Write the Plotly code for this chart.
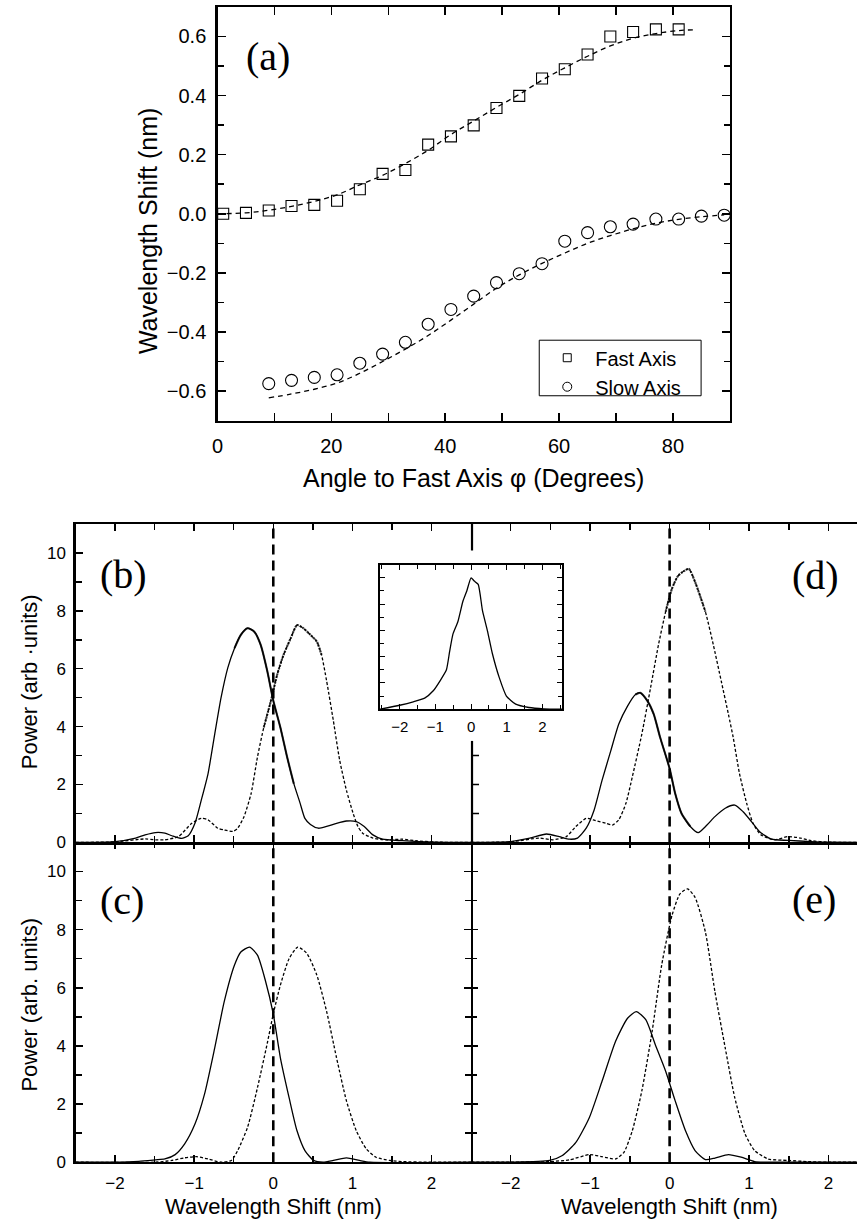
import plotly.graph_objects as go

W, H = 857, 1231
SANS = "Liberation Sans, Arial, Helvetica, sans-serif"
SERIF = "Liberation Serif, Times New Roman, serif"

# ---------------- panel (a) data ----------------
FAST_ANGLE = [1, 5, 9, 13, 17, 21, 25, 29, 33, 37, 41, 45, 49, 53, 57, 61, 65, 69, 73, 77, 81]
FAST_SHIFT = [0.0, 0.003, 0.011, 0.026, 0.03, 0.044, 0.083, 0.135, 0.148, 0.234, 0.262,
              0.299, 0.358, 0.399, 0.458, 0.489, 0.539, 0.600, 0.615, 0.624, 0.624]
SLOW_ANGLE = [9, 13, 17, 21, 25, 29, 33, 37, 41, 45, 49, 53, 57, 61, 65, 69, 73, 77, 81, 85, 89]
SLOW_SHIFT = [-0.575, -0.564, -0.554, -0.545, -0.506, -0.475, -0.435, -0.374, -0.324, -0.279,
              -0.233, -0.203, -0.169, -0.093, -0.064, -0.044, -0.035, -0.018, -0.018, -0.008, -0.005]
FAST_FIT_ANGLE = [0, 5, 9, 13, 17, 21, 25, 29, 33, 37, 41, 45, 49, 53, 57, 61, 65, 69, 73, 77, 81, 84]
FAST_FIT = [0.0, 0.003, 0.012, 0.025, 0.042, 0.064, 0.098, 0.130, 0.170, 0.215, 0.268, 0.314,
            0.360, 0.404, 0.452, 0.494, 0.533, 0.568, 0.594, 0.610, 0.620, 0.623]
SLOW_FIT_ANGLE = [9, 13, 17, 21, 25, 29, 33, 37, 41, 45, 49, 53, 57, 61, 65, 69, 73, 77, 81, 85, 89]
SLOW_FIT = [-0.623, -0.610, -0.594, -0.573, -0.540, -0.500, -0.458, -0.412, -0.360, -0.306,
            -0.252, -0.207, -0.168, -0.133, -0.100, -0.074, -0.051, -0.032, -0.019, -0.010, -0.004]

# ---------------- panel (b) data ----------------
B_SOLID_X = [-2.5, -2.0, -1.74, -1.62, -1.49, -1.37, -1.28, -1.16, -1.075, -0.99,
             -0.91, -0.825, -0.74, -0.66, -0.575, -0.49, -0.41, -0.325, -0.24, -0.16,
             -0.075, 0.0, 0.09, 0.175, 0.26, 0.34, 0.40, 0.47, 0.57, 0.675,
             0.80, 0.925, 1.05, 1.15, 1.26, 1.38, 1.63, 2.05, 2.5]
B_SOLID_Y = [0, 0.03, 0.15, 0.26, 0.34, 0.32, 0.23, 0.14, 0.23, 0.66,
             1.46, 2.37, 3.74, 5.0, 6.03, 6.71, 7.17, 7.4, 7.28, 6.83,
             5.91, 4.9, 3.97, 2.95, 2.03, 1.35, 0.83, 0.62, 0.49, 0.55,
             0.66, 0.74, 0.72, 0.55, 0.26, 0.11, 0.06, 0.01, 0]
B_DASH_X = [-2.5, -2.0, -1.62, -1.49, -1.37, -1.2, -1.03, -0.91, -0.825, -0.7,
            -0.62, -0.51, -0.45, -0.37, -0.28, -0.2, -0.12, -0.03, 0.05, 0.13,
            0.22, 0.30, 0.38, 0.47, 0.55, 0.61, 0.675, 0.76, 0.84, 0.925,
            1.01, 1.07, 1.13, 1.26, 1.43, 1.63, 1.8, 2.05, 2.5]
B_DASH_Y = [0, 0.02, 0.12, 0.09, 0.09, 0.2, 0.66, 0.83, 0.78, 0.49,
            0.43, 0.38, 0.49, 0.89, 1.69, 2.95, 3.97, 4.89, 5.8, 6.48,
            7.05, 7.51, 7.4, 7.17, 6.94, 6.48, 5.57, 4.2, 2.83, 1.8,
            1.0, 0.55, 0.32, 0.15, 0.09, 0.11, 0.06, 0.01, 0]

# ---------------- panel (d) data ----------------
D_SOLID_X = [-2.5, -2.0, -1.76, -1.55, -1.39, -1.26, -1.16, -1.05, -0.95, -0.85,
             -0.74, -0.64, -0.53, -0.43, -0.37, -0.28, -0.2, -0.12, 0.0, 0.07,
             0.15, 0.26, 0.36, 0.47, 0.57, 0.7, 0.82, 0.925, 1.03, 1.13,
             1.28, 1.49, 1.78, 1.99, 2.4]
D_SOLID_Y = [0, 0.03, 0.15, 0.29, 0.2, 0.11, 0.15, 0.49, 1.12, 2.15,
             3.17, 4.09, 4.71, 5.11, 5.17, 4.89, 4.43, 3.63, 2.55, 1.69,
             1.0, 0.55, 0.34, 0.6, 0.89, 1.18, 1.29, 1.06, 0.72, 0.38,
             0.11, 0.07, 0.03, 0.01, 0]
D_DASH_X = [-2.5, -2.0, -1.64, -1.47, -1.3, -1.18, -1.05, -0.93, -0.8, -0.72,
            -0.64, -0.55, -0.47, -0.35, -0.24, -0.14, -0.05, 0.03, 0.11, 0.24,
            0.32, 0.45, 0.55, 0.65, 0.74, 0.8, 0.88, 0.97, 1.05, 1.15,
            1.32, 1.49, 1.65, 1.78, 1.99, 2.4]
D_DASH_Y = [0, 0.02, 0.15, 0.09, 0.2, 0.55, 0.83, 0.75, 0.66, 0.6,
            0.78, 1.35, 2.26, 3.74, 5.34, 6.83, 7.97, 8.77, 9.22, 9.45,
            9.0, 7.97, 6.83, 5.57, 4.43, 3.63, 2.37, 1.35, 0.66, 0.26,
            0.09, 0.2, 0.15, 0.06, 0.01, 0]

# ---------------- panel (c) data ----------------
C_SOLID_X = [-2.5, -2.0, -1.7, -1.49, -1.37, -1.24, -1.12, -0.99, -0.87, -0.74,
             -0.62, -0.49, -0.41, -0.3, -0.2, -0.1, 0.0, 0.09, 0.2, 0.3,
             0.4, 0.51, 0.63, 0.76, 0.925, 1.09, 1.22, 2.5]
C_SOLID_Y = [0, 0.0, 0.03, 0.08, 0.11, 0.26, 0.63, 1.31, 2.33, 3.93,
             5.52, 6.78, 7.23, 7.4, 7.12, 6.25, 5.1, 3.59, 2.22, 1.08,
             0.4, 0.06, 0.0, 0.06, 0.15, 0.06, 0.0, 0]
C_DASH_X = [-2.5, -1.49, -1.28, -1.12, -0.97, -0.825, -0.66, -0.53, -0.45, -0.325,
            -0.2, -0.075, 0.0, 0.09, 0.2, 0.31, 0.425, 0.55, 0.675, 0.8,
            0.925, 1.05, 1.175, 1.3, 1.47, 1.63, 1.97, 2.5]
C_DASH_Y = [0, 0, 0.06, 0.15, 0.19, 0.11, 0.0, 0.06, 0.4, 1.2,
            2.56, 4.1, 5.1, 6.09, 7.0, 7.4, 7.18, 6.44, 5.18, 3.59,
            2.11, 1.08, 0.46, 0.17, 0.06, 0.02, 0, 0]

# ---------------- panel (e) data ----------------
E_SOLID_X = [-2.5, -2.0, -1.51, -1.35, -1.18, -1.01, -0.85, -0.68, -0.53, -0.42,
             -0.3, -0.18, -0.05, 0.07, 0.2, 0.32, 0.45, 0.57, 0.74, 0.9,
             1.07, 1.32, 2.4]
E_SOLID_Y = [0, 0, 0.06, 0.23, 0.68, 1.54, 2.79, 4.16, 4.95, 5.18,
             4.9, 4.04, 3.13, 2.11, 1.08, 0.4, 0.09, 0.14, 0.26, 0.17,
             0.02, 0, 0]
E_DASH_X = [-2.5, -2.0, -1.51, -1.26, -1.01, -0.85, -0.68, -0.575, -0.47, -0.35,
            -0.22, -0.1, 0.03, 0.13, 0.225, 0.32, 0.45, 0.57, 0.7, 0.82,
            0.95, 1.07, 1.24, 1.49, 1.74, 1.99, 2.4]
E_DASH_Y = [0, 0, 0.02, 0.08, 0.26, 0.19, 0.11, 0.34, 1.08, 2.45,
            4.5, 6.78, 8.49, 9.23, 9.4, 9.11, 7.92, 5.87, 3.93, 2.22,
            0.97, 0.4, 0.11, 0.06, 0.02, 0, 0]

# ---------------- inset data ----------------
INSET_X = [-2.55, -2.0, -1.62, -1.3, -1.06, -0.86, -0.69, -0.6, -0.51, -0.37, -0.23, -0.12,
           0.0, 0.09, 0.2, 0.32, 0.46, 0.6, 0.79, 0.99, 1.25, 1.62, 2.04, 2.55]
INSET_Y = [0, 0.03, 0.056, 0.084, 0.14, 0.22, 0.30, 0.44, 0.57, 0.666, 0.82, 0.90,
           1.0, 0.975, 0.95, 0.75, 0.595, 0.42, 0.24, 0.10, 0.038, 0.013, 0.003, 0]

# wavelength windows (nm) where the measured spectra (b), (d) show dense fringes
B_SOLID_FRINGE = [-0.50, 0.30]
B_DASH_FRINGE = [-0.13, 0.62]
D_SOLID_FRINGE = [-0.45, 0.30]
D_DASH_FRINGE = [-0.08, 0.50]

X_TICKS_LOWER = [-2, -1, 0, 1, 2]
Y_TICKS_LOWER = [0, 2, 4, 6, 8, 10]
A_X_TICKS = [0, 20, 40, 60, 80]
A_Y_TICKS = [-0.6, -0.4, -0.2, 0.0, 0.2, 0.4, 0.6]
MID_TICKS = [1, 2, 3]


def px(p):
    return p / W


def py(p):
    return 1 - p / H


fig = go.Figure()

# panel (a)
fig.add_trace(go.Scatter(x=FAST_FIT_ANGLE, y=FAST_FIT, mode="lines", showlegend=False,
                         line=dict(color="black", width=1.3, dash="5px,4px", shape="spline"),
                         xaxis="x", yaxis="y"))
fig.add_trace(go.Scatter(x=SLOW_FIT_ANGLE, y=SLOW_FIT, mode="lines", showlegend=False,
                         line=dict(color="black", width=1.3, dash="5px,4px", shape="spline"),
                         xaxis="x", yaxis="y"))
fig.add_trace(go.Scatter(x=FAST_ANGLE, y=FAST_SHIFT, mode="markers", showlegend=False,
                         marker=dict(symbol="square-open", size=11, color="black", line=dict(width=1.1)),
                         xaxis="x", yaxis="y"))
fig.add_trace(go.Scatter(x=SLOW_ANGLE, y=SLOW_SHIFT, mode="markers", showlegend=False,
                         marker=dict(symbol="circle-open", size=12, color="black", line=dict(width=1.1)),
                         xaxis="x", yaxis="y"))
fig.add_trace(go.Scatter(x=[None], y=[None], mode="markers", name="Fast Axis",
                         marker=dict(symbol="square-open", size=8, color="black", line=dict(width=1)),
                         xaxis="x", yaxis="y"))
fig.add_trace(go.Scatter(x=[None], y=[None], mode="markers", name="Slow Axis",
                         marker=dict(symbol="circle-open", size=9, color="black", line=dict(width=1)),
                         xaxis="x", yaxis="y"))

solid = dict(color="black", width=1.3)
dashed = dict(color="black", width=1.3, dash="3px,2px")


def pair(xs, ys, xd, yd, xa, ya):
    fig.add_trace(go.Scatter(x=xs, y=ys, mode="lines", showlegend=False,
                             line=dict(**solid, shape="spline", smoothing=0.6), xaxis=xa, yaxis=ya))
    fig.add_trace(go.Scatter(x=xd, y=yd, mode="lines", showlegend=False,
                             line=dict(**dashed, shape="spline", smoothing=0.6), xaxis=xa, yaxis=ya))


def fringe(xs, ys, window, xa, ya, dash):
    sel = [(x, y) for x, y in zip(xs, ys) if window[0] <= x <= window[1]]
    fig.add_trace(go.Scatter(x=[p[0] for p in sel], y=[p[1] for p in sel], mode="lines",
                             showlegend=False, opacity=0.8,
                             line=dict(color="black", width=2.1, dash=dash, shape="spline", smoothing=0.6),
                             xaxis=xa, yaxis=ya))


pair(B_SOLID_X, B_SOLID_Y, B_DASH_X, B_DASH_Y, "x2", "y2")
fringe(B_SOLID_X, B_SOLID_Y, B_SOLID_FRINGE, "x2", "y2", "solid")
fringe(B_DASH_X, B_DASH_Y, B_DASH_FRINGE, "x2", "y2", "2px,1px")
pair(D_SOLID_X, D_SOLID_Y, D_DASH_X, D_DASH_Y, "x3", "y3")
fringe(D_SOLID_X, D_SOLID_Y, D_SOLID_FRINGE, "x3", "y3", "solid")
fringe(D_DASH_X, D_DASH_Y, D_DASH_FRINGE, "x3", "y3", "2px,1px")
pair(C_SOLID_X, C_SOLID_Y, C_DASH_X, C_DASH_Y, "x4", "y4")
pair(E_SOLID_X, E_SOLID_Y, E_DASH_X, E_DASH_Y, "x5", "y5")
# empty traces that attach the top-tick overlay axes of (c) and (e)
fig.add_trace(go.Scatter(x=[None], y=[None], showlegend=False, hoverinfo="skip", xaxis="x7", yaxis="y4"))
fig.add_trace(go.Scatter(x=[None], y=[None], showlegend=False, hoverinfo="skip", xaxis="x8", yaxis="y5"))
fig.add_trace(go.Scatter(x=INSET_X, y=INSET_Y, mode="lines", showlegend=False,
                         line=dict(color="black", width=1.3, shape="spline", smoothing=0.5),
                         xaxis="x6", yaxis="y6"))

# geometry (pixels)
A_L, A_R, A_T, A_B = 213, 729, 7, 424
L_L, L_M, L_R = 70, 468.3, 857
U_T, U_B, D_B = 528.3, 849.3, 1171.7
I_L, I_R, I_T, I_B = 376.7, 560, 569.3, 715
GAP_T, GAP_B = 555, 747
LEG_L, LEG_R, LEG_T, LEG_B = 537, 700, 343, 399
D_RANGE = [-2.5, (L_R - L_M) / 80 - 2.5]
LW = 2.2

tickfont_a = dict(family=SANS, size=20, color="black")
tickfont_l = dict(family=SANS, size=17, color="black")


def base_axis(**kw):
    d = dict(showline=True, linewidth=LW, linecolor="black", ticks="inside", tickcolor="black",
             tickwidth=1.5, showgrid=False, zeroline=False)
    d.update(kw)
    return d


def minor(dt, ln=6, w=1.5):
    return dict(dtick=dt, tick0=0, ticks="inside", ticklen=ln, tickcolor="black", tickwidth=w)


lx_common = dict(tickvals=X_TICKS_LOWER, ticklen=7, minor=minor(0.5))
ly_common = dict(range=[0, 11], tickvals=Y_TICKS_LOWER, ticklen=7, minor=minor(1))

fig.update_layout(
    width=W, height=H, autosize=False,
    margin=dict(l=0, r=0, t=0, b=0),
    paper_bgcolor="white", plot_bgcolor="white",
    font=dict(family=SANS, color="black"),
    xaxis=base_axis(domain=[px(A_L), px(A_R)], anchor="y", range=[0, 90], tickvals=A_X_TICKS,
                    ticklen=8, mirror="ticks", tickfont=tickfont_a, ticklabelstandoff=6,
                    minor=minor(10, 8)),
    yaxis=base_axis(domain=[py(A_B), py(A_T)], anchor="x", range=[-0.7, 0.7], tickvals=A_Y_TICKS,
                    tickformat=".1f", ticklen=8, mirror="ticks", tickfont=tickfont_a, ticklabelstandoff=5,
                    minor=minor(0.1, 6)),
    # (b)
    xaxis2=base_axis(domain=[px(L_L), px(L_M)], anchor="y2", range=[-2.5, 2.5], showticklabels=False,
                     mirror="ticks", **lx_common),
    yaxis2=base_axis(domain=[py(U_B), py(U_T)], anchor="x2", mirror=False, tickfont=tickfont_l,
                     ticklabelstandoff=4, **ly_common),
    # (d)
    xaxis3=base_axis(domain=[px(L_M), px(L_R)], anchor="y3", range=D_RANGE, showticklabels=False,
                     mirror="ticks", **lx_common),
    yaxis3=base_axis(domain=[py(U_B), py(U_T)], anchor="x3", showline=False, showticklabels=False,
                     range=[0, 11], ticks=""),
    # (c)
    xaxis4=base_axis(domain=[px(L_L), px(L_M)], anchor="y4", range=[-2.5, 2.5], mirror=False,
                     tickfont=tickfont_l, ticklabelstandoff=4, **lx_common),
    yaxis4=base_axis(domain=[py(D_B), py(U_B)], anchor="x4", mirror="ticks", tickfont=tickfont_l,
                     ticklabelstandoff=4, **ly_common),
    xaxis7=base_axis(overlaying="x4", side="top", anchor="y4", range=[-2.5, 2.5], showline=False,
                     showticklabels=False, **lx_common),
    # (e)
    xaxis5=base_axis(domain=[px(L_M), px(L_R)], anchor="y5", range=D_RANGE, mirror=False,
                     tickfont=tickfont_l, ticklabelstandoff=4, **lx_common),
    yaxis5=base_axis(domain=[py(D_B), py(U_B)], anchor="x5", showline=False, mirror=False,
                     showticklabels=False, **ly_common),
    xaxis8=base_axis(overlaying="x5", side="top", anchor="y5", range=D_RANGE, showline=False,
                     showticklabels=False, **lx_common),
    # inset
    xaxis6=base_axis(domain=[px(I_L), px(I_R)], anchor="y6", range=[-2.55, 2.55], tickvals=X_TICKS_LOWER,
                     ticklen=5, linewidth=1.6, tickwidth=1, mirror="ticks",
                     tickfont=dict(family=SANS, size=15, color="black"), ticklabelstandoff=3,
                     minor=minor(0.5, 4, 1)),
    yaxis6=base_axis(domain=[py(I_B), py(I_T)], anchor="x6", range=[0, 1.1], dtick=0.2, tick0=0,
                     ticklen=5, linewidth=1.6, tickwidth=1, mirror="ticks", showticklabels=False,
                     minor=minor(0.1, 4, 1)),
    legend=dict(x=px(LEG_L), y=py(LEG_T - 2), xanchor="left", yanchor="top", bgcolor="rgba(0,0,0,0)",
                borderwidth=0, font=dict(family=SANS, size=20, color="black"),
                itemwidth=46, tracegroupgap=0),
)

shapes = []
# legend frame
shapes.append(dict(type="rect", xref="paper", yref="paper", x0=px(LEG_L), x1=px(LEG_R),
                   y0=py(LEG_B), y1=py(LEG_T), line=dict(color="black", width=1), fillcolor="white",
                   layer="below"))
# vertical dashed zero lines through lower panels
for xa, ya in [("x2", "y2"), ("x4", "y4"), ("x3", "y3"), ("x5", "y5")]:
    shapes.append(dict(type="line", xref=xa, yref=ya + " domain", x0=0, x1=0, y0=0, y1=1,
                       line=dict(color="black", width=2.6, dash="10px,6px")))
# middle axis between (b) and (d), interrupted by the inset
shapes.append(dict(type="line", xref="paper", yref="paper", x0=px(L_M + 1), x1=px(L_M + 1),
                   y0=py(U_T), y1=py(GAP_T), line=dict(color="black", width=LW)))
shapes.append(dict(type="line", xref="paper", yref="paper", x0=px(L_M + 1), x1=px(L_M + 1),
                   y0=py(GAP_B), y1=py(U_B), line=dict(color="black", width=LW)))
for v in MID_TICKS:
    shapes.append(dict(type="line", xref="x3", yref="y3", xsizemode="pixel", xanchor=D_RANGE[0],
                       x0=-7, x1=8, y0=v, y1=v, line=dict(color="black", width=1.5)))
fig.update_layout(shapes=shapes)


def note(text, cx, cy, size, family=SANS, angle=0):
    return dict(text=text, x=px(cx), y=py(cy), xref="paper", yref="paper", showarrow=False,
                xanchor="center", yanchor="middle", textangle=angle,
                font=dict(family=family, size=size, color="black"))


ann = [
    note("Wavelength Shift (nm)", 143, 233, 25, angle=-90),
    note("Angle to Fast Axis \u03c6 (Degrees)", 471, 482, 25),
    note("Power (arb \u00b7units)", 24, 687, 22, angle=-90),
    note("Power (arb. units)", 24, 1013, 22, angle=-90),
    note("Wavelength Shift (nm)", 269, 1216, 22),
    note("Wavelength Shift (nm)", 668, 1216, 22),
]
for lab, cx, cy in [("(a)", 264, 57), ("(b)", 118, 579), ("(c)", 117, 908), ("(d)", 815, 580), ("(e)", 814, 907)]:
    ann.append(note(lab, cx, cy, 40, family=SERIF))
fig.update_layout(annotations=ann)

fig.write_html(
    "out.html",
    config={"displayModeBar": False, "staticPlot": True},
    post_script=("document.documentElement.style.margin='0';document.documentElement.style.overflow='hidden';"
                 "document.body.style.margin='0';document.body.style.overflow='hidden';"),
)
